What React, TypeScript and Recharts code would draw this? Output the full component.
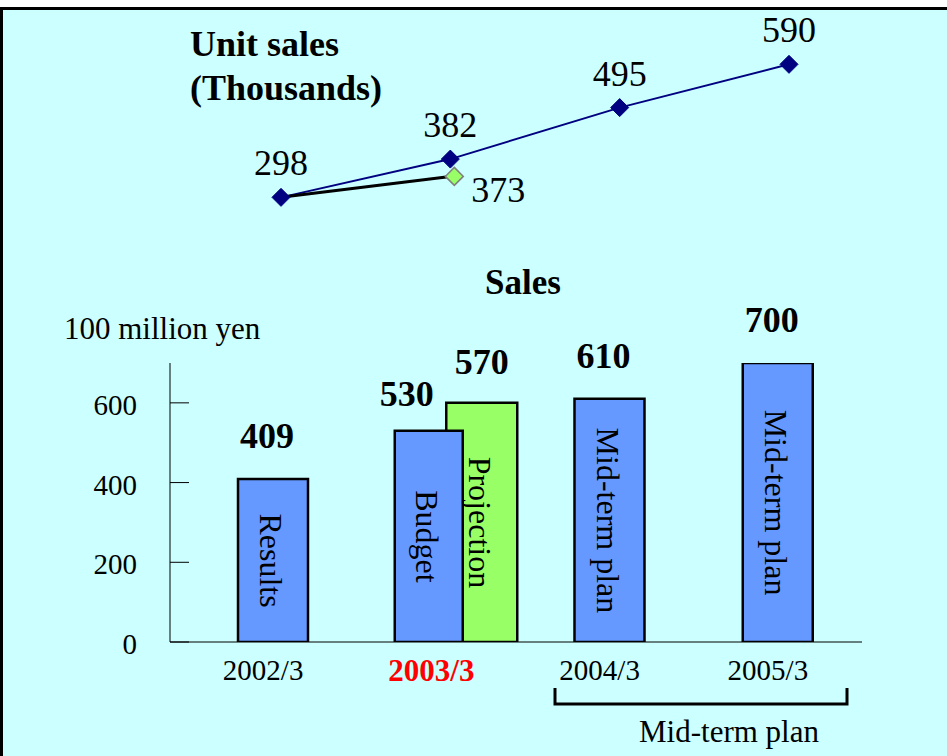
import React from 'react';
import { ComposedChart, LineChart, Line, Bar, XAxis, YAxis, LabelList } from 'recharts';

// ---- data ----
const years = ['2002/3', '2003/3', '2004/3', '2005/3'];

// Unit sales (thousands)
const unitSales = [298, 382, 495, 590];
const unitLabels = ['298', '382', '495', '590'];
// projection line as drawn (label reads 373)
const projectedUnits = [298, 344, null, null];
const projectedUnitLabels = ['', '373', '', ''];

// Sales (100 million yen)
const salesMain = [409, null, 610, 700];
const salesMainLabels = ['409', '', '610', '700'];
const salesMainNames = ['Results', '', 'Mid-term plan', 'Mid-term plan'];
const salesBudget = [null, 530, null, null];
const salesBudgetLabels = ['', '530', '', ''];
const salesBudgetNames = ['', 'Budget', '', ''];
const salesProjection = [null, 600, null, null];
const salesProjectionLabels = ['', '570', '', ''];
const salesProjectionNames = ['', 'Projection', '', ''];

const yTicks = [0, 200, 400, 600];

const lineData = years.map((y, i) => ({
  year: y,
  units: unitSales[i],
  unitsLabel: unitLabels[i],
  proj: projectedUnits[i],
  projLabel: projectedUnitLabels[i],
}));

const barData = years.map((y, i) => ({
  year: y,
  main: salesMain[i],
  mainLabel: salesMainLabels[i],
  mainName: salesMainNames[i],
  budget: salesBudget[i],
  budgetLabel: salesBudgetLabels[i],
  budgetName: salesBudgetNames[i],
  projection: salesProjection[i],
  projectionLabel: salesProjectionLabels[i],
  projectionName: salesProjectionNames[i],
}));

const FONT = '"Liberation Serif", "Times New Roman", serif';
const BLUE = '#6699FF';
const GREEN = '#99FF66';
const NAVY = '#000080';

const diamond = (cx: number, cy: number, r: number, fill: string, stroke: string, sw: number, key: any) => (
  <path
    key={key}
    d={`M${cx},${cy - r} L${cx + r},${cy} L${cx},${cy + r} L${cx - r},${cy} Z`}
    fill={fill}
    stroke={stroke}
    strokeWidth={sw}
  />
);

const makeValueLabel = (dx: number, up: number) => (props: any) => {
  const { x, y, width, value } = props;
  if (!value || x == null) return null;
  return (
    <text
      x={x + width / 2 + dx}
      y={y - up}
      textAnchor="middle"
      dominantBaseline="central"
      style={{ fontFamily: FONT, fontSize: 36, fontWeight: 'bold', fill: '#000' }}
    >
      {value}
    </text>
  );
};

const innerLabel = (props: any) => {
  const { x, y, width, height, value } = props;
  if (!value || x == null) return null;
  const cx = x + width / 2 - 2;
  const cy = y + height / 2;
  return (
    <text
      transform={`translate(${cx},${cy}) rotate(90)`}
      textAnchor="middle"
      dominantBaseline="central"
      style={{ fontFamily: FONT, fontSize: 32, fill: '#000' }}
    >
      {value}
    </text>
  );
};

const YTick = (props: any) => {
  const { x, y, payload } = props;
  return (
    <g>
      <line x1={x + 33} x2={x + 52} y1={y} y2={y} stroke="#000" strokeWidth={1} />
      <text
        x={x}
        y={y + 2}
        textAnchor="end"
        dominantBaseline="central"
        style={{ fontFamily: FONT, fontSize: 29, fill: '#000' }}
      >
        {payload.value}
      </text>
    </g>
  );
};

const XTick = (props: any) => {
  const { x, y, payload } = props;
  const highlight = payload.value === '2003/3';
  return (
    <text
      x={x - 10}
      y={y + 28}
      textAnchor="middle"
      dominantBaseline="central"
      style={{
        fontFamily: FONT,
        fontSize: highlight ? 31 : 29,
        fontWeight: highlight ? 'bold' : 'normal',
        fill: highlight ? '#FF0000' : '#000',
      }}
    >
      {payload.value}
    </text>
  );
};

const unitDot = (props: any) => {
  const { cx, cy, index } = props;
  if (cx == null || cy == null) return <g key={`u${index}`} />;
  return diamond(cx, cy, 9, NAVY, NAVY, 1, `u${index}`);
};

const projDot = (props: any) => {
  const { cx, cy, index, payload } = props;
  if (cx == null || cy == null || !payload || !payload.projLabel) return <g key={`p${index}`} />;
  return diamond(cx + 4, cy, 9, GREEN, '#808080', 1.5, `p${index}`);
};

const unitLabel = (props: any) => {
  const { x, y, value } = props;
  if (!value || x == null) return null;
  return (
    <text
      x={x}
      y={y - 34}
      textAnchor="middle"
      dominantBaseline="central"
      style={{ fontFamily: FONT, fontSize: 36, fill: '#000' }}
    >
      {value}
    </text>
  );
};

const projLabel = (props: any) => {
  const { x, y, value } = props;
  if (!value || x == null) return null;
  return (
    <text
      x={x + 21}
      y={y + 14}
      textAnchor="start"
      dominantBaseline="central"
      style={{ fontFamily: FONT, fontSize: 36, fill: '#000' }}
    >
      {value}
    </text>
  );
};

const textStyle = (size: number, bold = false) => ({
  fontFamily: FONT,
  fontSize: size,
  fontWeight: bold ? 'bold' : 'normal',
  fill: '#000',
});

export default function App() {
  return (
    <div style={{ position: 'absolute', left: 0, top: 0, width: 947, height: 756, overflow: 'hidden', background: '#fff' }}>
      <div
        style={{
          position: 'absolute',
          left: 0,
          top: 7,
          width: 980,
          height: 800,
          boxSizing: 'border-box',
          border: '3px solid #000',
          background: '#CCFFFF',
        }}
      />
      {/* Sales bar chart */}
      <div style={{ position: 'absolute', left: 0, top: 0 }}>
        <ComposedChart width={947} height={756} data={barData} margin={{ top: 363, right: 85, bottom: 84, left: 110 }}>
          <XAxis
            xAxisId="main"
            dataKey="year"
            padding={{ left: 19, right: 0 }}
            tickLine={false}
            tickSize={0}
            tickMargin={0}
            axisLine={{ stroke: '#000', strokeWidth: 1 }}
            tick={<XTick />}
            interval={0}
            height={30}
          />
          <XAxis xAxisId="budget" dataKey="year" hide height={0} padding={{ left: 6.5, right: 12.5 }} />
          <XAxis xAxisId="proj" dataKey="year" hide height={0} padding={{ left: 59, right: -40 }} />
          <YAxis
            domain={[0, 700]}
            ticks={yTicks}
            width={60}
            tickLine={false}
            tickSize={0}
            tickMargin={33}
            axisLine={{ stroke: '#000', strokeWidth: 1 }}
            tick={<YTick />}
            interval={0}
            allowDataOverflow
          />
          <Bar xAxisId="proj" dataKey="projection" barSize={71} fill={GREEN} stroke="#000" strokeWidth={2.5} isAnimationActive={false}>
            <LabelList dataKey="projectionLabel" content={makeValueLabel(0, 41)} />
            <LabelList dataKey="projectionName" content={innerLabel} />
          </Bar>
          <Bar xAxisId="budget" dataKey="budget" barSize={68} fill={BLUE} stroke="#000" strokeWidth={2.5} isAnimationActive={false}>
            <LabelList dataKey="budgetLabel" content={makeValueLabel(-22, 37)} />
            <LabelList dataKey="budgetName" content={innerLabel} />
          </Bar>
          <Bar xAxisId="main" dataKey="main" barSize={70} fill={BLUE} stroke="#000" strokeWidth={2.5} isAnimationActive={false}>
            <LabelList dataKey="mainLabel" content={makeValueLabel(-6, 43)} />
            <LabelList dataKey="mainName" content={innerLabel} />
          </Bar>
        </ComposedChart>
      </div>
      {/* Unit sales line chart */}
      <div style={{ position: 'absolute', left: 0, top: 0 }}>
        <LineChart width={947} height={260} data={lineData} margin={{ top: 37, right: 158, bottom: 18, left: 281 }}>
          <XAxis dataKey="year" hide scale="point" padding={{ left: 0, right: 0 }} />
          <YAxis hide domain={[200, 650]} allowDataOverflow />
          <Line
            dataKey="units"
            stroke={NAVY}
            strokeWidth={2}
            dot={unitDot}
            activeDot={false}
            isAnimationActive={false}
          >
            <LabelList dataKey="unitsLabel" content={unitLabel} />
          </Line>
          <Line
            dataKey="proj"
            stroke="#000"
            strokeWidth={3}
            dot={projDot}
            activeDot={false}
            isAnimationActive={false}
          >
            <LabelList dataKey="projLabel" content={projLabel} />
          </Line>
        </LineChart>
      </div>
      {/* Titles and annotations */}
      <svg width={947} height={756} style={{ position: 'absolute', left: 0, top: 0, pointerEvents: 'none' }}>
        <text x={190} y={44} dominantBaseline="central" style={textStyle(36, true)}>Unit sales</text>
        <text x={190} y={88} dominantBaseline="central" style={textStyle(36, true)}>(Thousands)</text>
        <text x={523} y={282} textAnchor="middle" dominantBaseline="central" style={textStyle(35, true)}>Sales</text>
        <text x={64} y={328} dominantBaseline="central" style={textStyle(31)}>100 million yen</text>
        <path d="M555,688 L555,704 L847,704 L847,688" fill="none" stroke="#000" strokeWidth={3} />
        <text x={729} y={731} textAnchor="middle" dominantBaseline="central" style={textStyle(31)}>Mid-term plan</text>
      </svg>
    </div>
  );
}
